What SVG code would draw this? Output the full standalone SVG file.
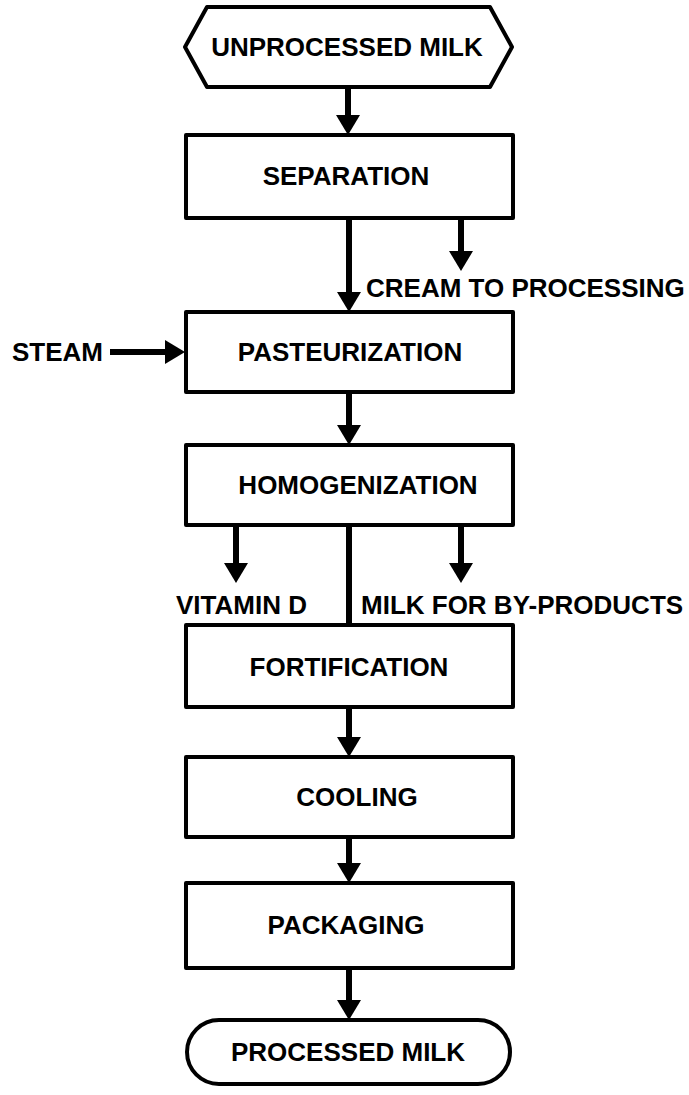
<svg xmlns="http://www.w3.org/2000/svg" width="689" height="1095" viewBox="0 0 689 1095">
<style>
.node{fill:#fff;stroke:#000;stroke-width:4;stroke-linejoin:round}
.lbl{font-family:"Liberation Sans",Arial,sans-serif;font-weight:bold;font-size:26px;fill:#000}
.c{text-anchor:middle}
.edge{stroke:#000;stroke-width:6;fill:none}
.arr{marker-end:url(#ah)}
</style>
<defs>
<marker id="ah" markerUnits="userSpaceOnUse" markerWidth="20" markerHeight="24" viewBox="0 0 20 24" refX="8" refY="12" orient="auto">
<path d="M0,0 L20,12 L0,24 Z" fill="#000"/>
</marker>
</defs>
<rect width="689" height="1095" fill="#fff"/>
<g id="connectors">
<line class="edge arr" x1="348" y1="87" x2="348" y2="123"/>
<line class="edge arr" x1="349" y1="218" x2="349" y2="300"/>
<line class="edge arr" x1="461" y1="218" x2="461" y2="259"/>
<line class="edge arr" x1="110" y1="352" x2="173" y2="352"/>
<line class="edge arr" x1="349" y1="392" x2="349" y2="433"/>
<line class="edge arr" x1="236" y1="525" x2="236" y2="571"/>
<line class="edge arr" x1="461" y1="525" x2="461" y2="571"/>
<line class="edge" x1="349" y1="525" x2="349" y2="625"/>
<line class="edge arr" x1="349" y1="707" x2="349" y2="745"/>
<line class="edge arr" x1="349" y1="837" x2="349" y2="871"/>
<line class="edge arr" x1="349" y1="968" x2="349" y2="1008"/>
</g>
<g id="unprocessed">
<polygon class="node" points="185,47 207,7 490,7 512,47 490,87 207,87"/>
<text class="lbl c" x="347" y="56">UNPROCESSED MILK</text>
</g>
<g id="separation">
<rect class="node" x="186" y="135" width="327" height="83"/>
<text class="lbl c" x="346" y="185">SEPARATION</text>
</g>
<g id="cream">
<text class="lbl" x="366" y="297">CREAM TO PROCESSING</text>
</g>
<g id="steam">
<text class="lbl" x="12" y="361">STEAM</text>
</g>
<g id="pasteurization">
<rect class="node" x="186" y="312" width="327" height="80"/>
<text class="lbl c" x="350" y="361">PASTEURIZATION</text>
</g>
<g id="homogenization">
<rect class="node" x="186" y="445" width="327" height="80"/>
<text class="lbl c" x="358" y="494">HOMOGENIZATION</text>
</g>
<g id="vitamin">
<text class="lbl" x="176" y="614">VITAMIN D</text>
</g>
<g id="byproducts">
<text class="lbl" x="361" y="614">MILK FOR BY-PRODUCTS</text>
</g>
<g id="fortification">
<rect class="node" x="186" y="625" width="327" height="82"/>
<text class="lbl c" x="349" y="676">FORTIFICATION</text>
</g>
<g id="cooling">
<rect class="node" x="186" y="757" width="327" height="80"/>
<text class="lbl c" x="357" y="806">COOLING</text>
</g>
<g id="packaging">
<rect class="node" x="186" y="883" width="327" height="85"/>
<text class="lbl c" x="346" y="934">PACKAGING</text>
</g>
<g id="processed">
<rect class="node" x="187" y="1020" width="323" height="64" rx="32"/>
<text class="lbl c" x="348" y="1061">PROCESSED MILK</text>
</g>
</svg>
